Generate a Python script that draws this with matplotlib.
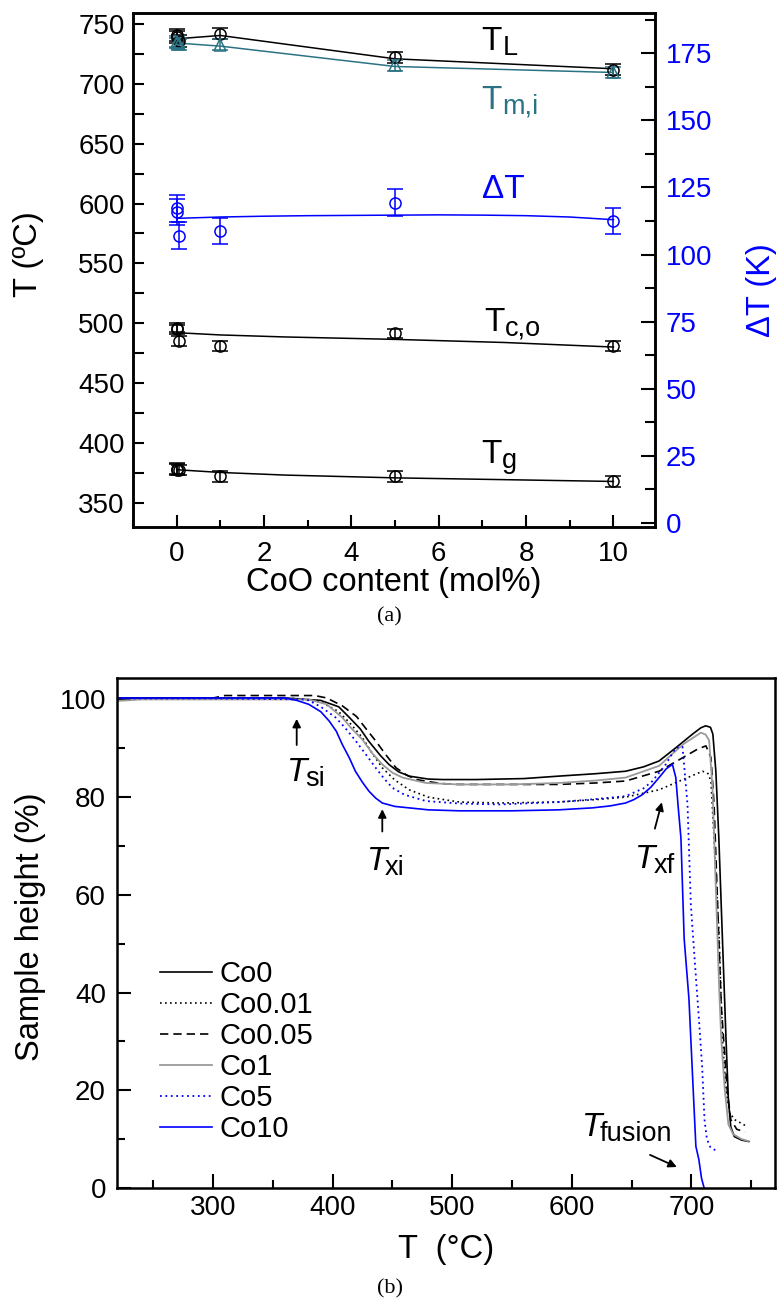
import matplotlib
matplotlib.use("Agg")
import matplotlib.pyplot as plt
from matplotlib.ticker import MultipleLocator

plt.rcParams['font.family'] = ['Liberation Sans', 'DejaVu Sans']

# ---- (a) characteristic temperatures vs CoO content ----
coo = [0, 0.01, 0.05, 1, 5, 10]
t_liq = [741, 739, 736, 741.7, 722, 711.7]
t_liq_err = [5, 5, 5, 4.5, 4.5, 4.5]
t_mi = [735, 734, 733, 732.5, 715.3, 709.4]
t_mi_err = [4.5, 4.5, 4.5, 4.5, 4.5, 4.5]
t_co = [496.4, 495, 485.2, 481, 491.6, 481]
t_co_err = [4, 4, 4, 4, 4, 4]
t_g = [378.5, 377.8, 377.5, 372.2, 372.2, 368]
t_g_err = [4.5, 4.5, 4.5, 4.5, 4.5, 4.5]
d_t = [117.2, 115.9, 107.1, 108.9, 119.4, 112.6]
d_t_err = [4.9, 4.9, 4.9, 4.9, 4.9, 4.9]

# guide lines
liq_x = [0, 1, 5, 10]
liq_line = [737.5, 740.3, 720.8, 712.5]
mi_line = [734, 731.4, 714.4, 709.4]
fit_x = [0, 1, 2.5, 5, 7.5, 10]
co_line = [492.2, 490.3, 488.6, 486.6, 484.0, 480.2]
g_line = [377.8, 375.5, 373.3, 371.0, 369.5, 368.0]
dt_x = [0, 1, 2, 3, 4, 5, 6, 7, 8, 9, 10]
dt_line = [113.5, 114.0, 114.3, 114.5, 114.6, 114.7, 114.8, 114.7, 114.5, 114.0, 113.0]

# ---- (b) sample height vs temperature ----
co0_T = [220, 300, 360, 390, 405, 414, 423, 430, 440, 447, 455, 464, 480, 492, 520, 560, 589,
         620, 645, 660, 673, 687, 701, 708, 712, 716, 718, 720.5, 723, 726, 729, 731, 733, 736, 742, 748]
co0_h = [100.3, 100.3, 100.3, 99.8, 98.5, 96.3, 94, 91.5, 88.5, 86.7, 85.2, 84.3, 83.7, 83.6, 83.6,
         83.8, 84.3, 84.8, 85.3, 86.2, 87.4, 90.1, 92.9, 94.2, 94.6, 94.3, 92.9, 85.3, 71.6, 51, 30.5,
         18, 12.5, 10.5, 9.8, 9.5]
co001_T = [220, 300, 370, 390, 405, 415, 424.8, 433, 441.5, 452, 464, 480, 505.7, 540, 589, 620, 645,
           673, 693, 709.4, 714, 716.4, 719, 723.3, 726, 729, 732, 736, 742, 745]
co001_h = [100.2, 100.2, 100.2, 99.5, 97.5, 95, 92.2, 89, 86, 83.5, 81.5, 80, 79, 78.8, 79, 79.5, 80,
           81.5, 83.6, 85.3, 84.8, 83.3, 71.6, 51, 30.5, 20, 15.5, 14, 13.2, 12.8]
co005_T = [220, 300, 310, 385, 395, 408, 420, 425, 436, 445, 453, 462, 470, 490, 505, 550, 589, 620,
           645, 673, 693, 705, 712.2, 716.4, 719, 722, 725, 727, 730, 733, 738, 745]
co005_h = [100.3, 100.3, 100.8, 100.8, 100.3, 98.7, 96.5, 94.9, 91.5, 88.5, 86, 84.5, 83.6, 82.8,
           82.6, 82.6, 82.6, 82.9, 83.3, 85.3, 88.1, 89.8, 90.5, 88.1, 78.5, 57.9, 37.3, 30.5, 20, 14,
           12, 11.5]
co1_T = [220, 240, 300, 380, 395, 408, 416, 424.8, 433, 441.5, 450, 458.4, 478, 505, 550, 589, 620,
         645, 673, 693, 708, 712, 714.9, 717.7, 720.5, 723.3, 725, 728, 731, 735, 742, 747.5]
co1_h = [99.7, 100, 100, 100, 99, 96.3, 94, 91.8, 89, 86.7, 85, 84, 82.9, 82.6, 82.6, 82.9, 83.4,
         84, 86.4, 90.8, 93.2, 92.8, 91.6, 81.9, 61.3, 40.7, 30.5, 20, 13, 11, 10, 9.6]
co5_T = [220, 300, 375, 380, 390, 402.5, 410, 419, 427, 436, 443, 450, 460, 478, 505.7, 540, 589,
         620, 645, 660, 667.5, 678.6, 687, 692.6, 696.8, 699.6, 703, 706.5, 709, 711, 713, 716, 721.7]
co5_h = [100.2, 100.2, 100, 99.8, 98.5, 96.3, 94.3, 91.6, 89, 86, 83.8, 81.9, 80.5, 79.2, 78.7, 78.5,
         79, 79.6, 80.2, 81.8, 83.3, 86.7, 90.1, 90.3, 78.5, 57.9, 46, 34, 25, 14, 10, 8.3, 7.5]
co10_T = [220, 360, 370, 380, 390, 397, 403, 408, 414, 419, 425, 430.4, 436, 441.5, 452, 464, 480,
          505.7, 550, 589, 617, 632, 645, 652, 659, 666, 673, 679, 684.2, 687, 689, 691.3, 694, 698,
          701, 703.8, 706.3, 708.5, 710.7]
co10_h = [100.3, 100.3, 99.8, 99.0, 97.5, 95.6, 93.5, 90.8, 88, 85.3, 83, 81.2, 79.8, 78.8, 78.1,
          77.8, 77.4, 77.2, 77.2, 77.4, 77.8, 78.2, 78.8, 79.5, 80.5, 82, 84, 85.8, 86.7, 84, 78,
          71.6, 51, 38.7, 23, 8.5, 5.8, 2, 0]


def sub_label(a, x, y, main, sub, color='black', italic=False, size=24, sub_size=19.5):
    # letter with a larger-than-mathtext subscript, anchored at its left baseline
    style = 'italic' if italic else 'normal'
    t = a.text(x, y, main, fontsize=size, color=color, style=style, ha='left', va='baseline')
    if sub:
        a.annotate(sub, xy=(1, 0), xycoords=t, xytext=(-1.5 if italic else 0.3, 1.5),
                   textcoords='offset points', fontsize=sub_size, color=color,
                   ha='left', va='baseline')
    return t


fig = plt.figure(figsize=(7.79, 13.06), dpi=100)

ax = fig.add_axes([0.1707, 0.5965, 0.670, 0.3935])
ax2 = ax.twinx()

teal = '#2b7384'
blue = '#0000ff'
eb = dict(capsize=5.5, elinewidth=1.1, capthick=1.1, markersize=8, mfc='none', mew=1.1, ls='none')

ax.plot(liq_x, liq_line, color='black', lw=1.1)
ax.errorbar(coo, t_liq, yerr=t_liq_err, marker='o', color='black', **eb)
ax.plot(liq_x, mi_line, color=teal, lw=1.1)
ax.errorbar(coo, t_mi, yerr=t_mi_err, marker='^', color=teal, **eb)
ax.plot(fit_x, co_line, color='black', lw=1.1)
ax.errorbar(coo, t_co, yerr=t_co_err, marker='o', color='black', **eb)
ax.plot(fit_x, g_line, color='black', lw=1.1)
ax.errorbar(coo, t_g, yerr=t_g_err, marker='o', color='black', **eb)

ax2.plot(dt_x, dt_line, color=blue, lw=1.1)
ax2.errorbar(coo, d_t, yerr=d_t_err, marker='o', color=blue, **eb)

ax.set_xlim(-1, 10.95)
ax.set_ylim(330, 759)
ax2.set_ylim(-1.5, 190)

ax.xaxis.set_major_locator(MultipleLocator(2))
ax.xaxis.set_minor_locator(MultipleLocator(1))
ax.yaxis.set_major_locator(MultipleLocator(50))
ax.yaxis.set_minor_locator(MultipleLocator(25))
ax2.yaxis.set_major_locator(MultipleLocator(25))
ax2.yaxis.set_minor_locator(MultipleLocator(12.5))

ax.tick_params(which='both', direction='in', labelsize=20, width=1.5, top=False, right=False)
ax.tick_params(axis='x', which='major', length=9, pad=10)
ax.tick_params(axis='x', which='minor', length=5)
ax.tick_params(axis='y', which='both', length=8, pad=6)
ax2.tick_params(which='both', direction='in', labelsize=20, width=1.5, labelcolor=blue, pad=8)
ax2.tick_params(which='major', length=10)
ax2.tick_params(which='minor', length=7)
for a in (ax, ax2):
    for s in a.spines.values():
        s.set_linewidth(1.8)

ax.set_xlabel('CoO content (mol%)', fontsize=23.5)
ax.xaxis.set_label_coords(0.5, -0.108)
ax.xaxis.label.set_va('center')
ax.set_ylabel('T (ºC)', fontsize=23.5)
ax.yaxis.set_label_coords(-0.2, 0.53)
ax.yaxis.label.set_va('center')
ax2.set_ylabel('ΔT (K)', fontsize=23.5, color=blue)
ax2.yaxis.set_label_coords(1.205, 0.46)
ax2.yaxis.label.set_va('center')

sub_label(ax, 6.98, 727.8, 'T', 'L')
sub_label(ax, 6.98, 679, 'T', 'm,i', color=teal)
sub_label(ax, 6.98, 605, 'ΔT', '', color=blue)
sub_label(ax, 7.05, 493.6, 'T', 'c,o')
sub_label(ax, 6.98, 383.6, 'T', 'g')

fig.text(0.5, 1 - 617 / 1306, '(a)', fontsize=16, family='Liberation Serif', ha='center', va='center')

# ---- panel (b) ----
bx = fig.add_axes([0.1502, 0.0904, 0.8447, 0.3905])
bx.plot(co0_T, co0_h, color='black', lw=1.2, label='Co0')
bx.plot(co001_T, co001_h, color='black', lw=1.2, ls=(0, (1, 2)), label='Co0.01')
bx.plot(co005_T, co005_h, color='black', lw=1.2, ls=(0, (5, 3)), label='Co0.05')
bx.plot(co1_T, co1_h, color='#9a9a9a', lw=1.3, label='Co1')
bx.plot(co5_T, co5_h, color=blue, lw=1.3, ls=(0, (1, 2)), label='Co5')
bx.plot(co10_T, co10_h, color=blue, lw=1.2, label='Co10')

bx.set_xlim(219.6, 770)
bx.set_ylim(0, 104.4)
bx.xaxis.set_major_locator(MultipleLocator(100))
bx.xaxis.set_minor_locator(MultipleLocator(50))
bx.yaxis.set_major_locator(MultipleLocator(20))
bx.yaxis.set_minor_locator(MultipleLocator(10))
bx.tick_params(which='both', direction='in', labelsize=20, width=1.5, top=False, right=False)
bx.tick_params(axis='x', which='major', length=10, pad=5)
bx.tick_params(axis='y', which='major', length=10, pad=8)
bx.tick_params(which='minor', length=6)
for s in bx.spines.values():
    s.set_linewidth(1.8)

bx.set_xlabel('T  (°C)', fontsize=23.5)
bx.xaxis.set_label_coords(0.5, -0.12)
bx.xaxis.label.set_va('center')
bx.set_ylabel('Sample height (%)', fontsize=23.5)
bx.yaxis.set_label_coords(-0.132, 0.512)
bx.yaxis.label.set_va('center')

arrow = dict(arrowstyle='-|>', color='black', lw=1.3, mutation_scale=12)
bx.annotate('', xy=(369.9, 96.6), xytext=(369.9, 90.1), arrowprops=arrow)
sub_label(bx, 361.5, 83.3, 'T', 'si', italic=True)
bx.annotate('', xy=(441.5, 78.1), xytext=(441.5, 72.4), arrowprops=arrow)
sub_label(bx, 428.5, 65.1, 'T', 'xi', italic=True)
bx.annotate('', xy=(675.9, 79.5), xytext=(668.9, 73), arrowprops=arrow)
sub_label(bx, 652.9, 65.4, 'T', 'xf', italic=True)
bx.annotate('', xy=(690, 4.05), xytext=(663.3, 7.0), arrowprops=arrow)
sub_label(bx, 608.3, 10.6, 'T', 'fusion', italic=True)

bx.legend(loc='upper left', bbox_to_anchor=(0.065, 0.447), frameon=False, fontsize=21,
          handlelength=1.8, handletextpad=0.26, labelspacing=0.105, borderaxespad=0, borderpad=0)

fig.text(0.5, 1 - 1289 / 1306, '(b)', fontsize=16, family='Liberation Serif', ha='center', va='center')

fig.savefig('out.png', dpi=100)
